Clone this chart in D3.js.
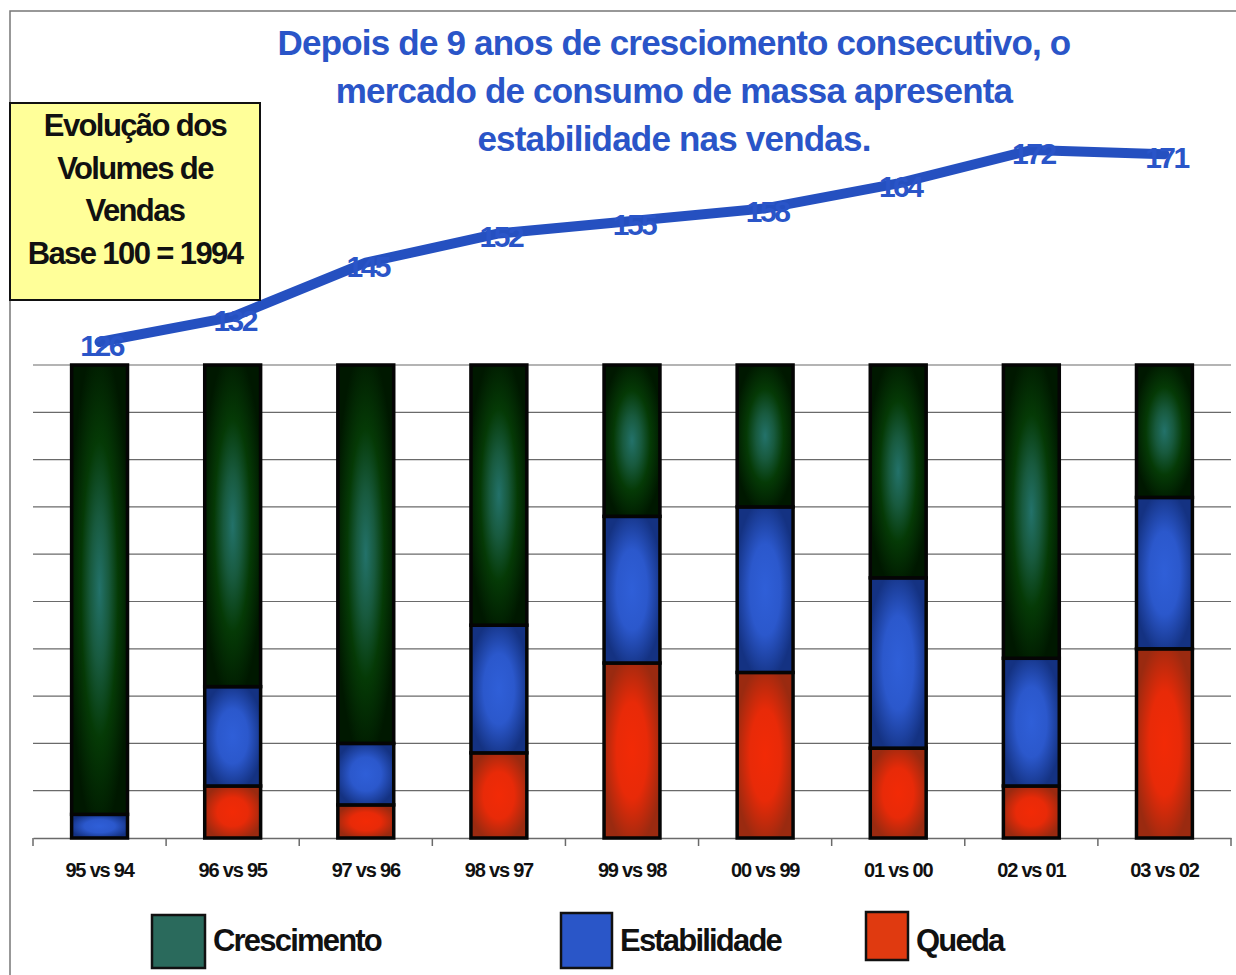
<!DOCTYPE html>
<html>
<head>
<meta charset="utf-8">
<script src="https://cdn.jsdelivr.net/npm/d3@7"></script>
<style>
body{margin:0;background:#fff;}
svg text{font-family:"Liberation Sans",Arial,sans-serif;}
</style>
</head>
<body>
<div class="visHolder"></div>
<script>
// categorias e valores
const periodos=["95 vs 94","96 vs 95","97 vs 96","98 vs 97","99 vs 98","00 vs 99","01 vs 00","02 vs 01","03 vs 02"];
const queda=[0,11,7,18,37,35,19,11,40];
const estabilidade=[5,21,13,27,31,35,36,27,32];
const crescimento=[95,68,80,55,32,30,45,62,28];
const volume=[126,132,145,152,155,158,164,172,171];
const yTicks=[0,10,20,30,40,50,60,70,80,90,100];

const W=1236,H=975;
const plot={left:33,right:1231,top:365,bottom:838};

const svg=d3.select(".visHolder").append("svg")
.attr("width",W).attr("height",H);

// moldura
svg.append("path")
.attr("d","M10,975 V11 H1236")
.attr("fill","none").attr("stroke","#777").attr("stroke-width",1.5);

const series=[
  {key:"queda",name:"Queda",stops:[[0,"#f22a06"],[0.5,"#e82a08"],[1,"#9a2a10"]]},
  {key:"estab",name:"Estabilidade",stops:[[0,"#2f5fd8"],[0.5,"#2b58cc"],[1,"#143282"]]},
  {key:"cresc",name:"Crescimento",stops:[[0,"#23726a"],[0.3,"#185a3e"],[0.6,"#053a06"],[1,"#001800"]]}
];

const defs=svg.append("defs");
series.forEach(s=>{
  const g=defs.append("radialGradient").attr("id","g-"+s.key)
  .attr("cx","50%").attr("cy","50%").attr("r","55%");
  s.stops.forEach(st=>g.append("stop").attr("offset",st[0]).attr("stop-color",st[1]));
});

const x=d3.scaleBand().domain(periodos).range([plot.left,plot.right]).paddingInner(0.58).paddingOuter(0.29);
const xAxisScale=d3.scaleBand().domain(periodos).range([plot.left,plot.right]);
const y=d3.scaleLinear().domain([0,100]).range([plot.bottom,plot.top]);

// grade
svg.append("g").selectAll("line")
.data(yTicks.slice(1))
.enter().append("line")
.attr("x1",plot.left).attr("x2",plot.right)
.attr("y1",d=>y(d)).attr("y2",d=>y(d))
.attr("stroke","#6a6a6a").attr("stroke-width",1.2);

// eixo x
const xAxis=d3.axisBottom(xAxisScale).tickSize(0).tickPadding(25);
const gx=svg.append("g").attr("transform","translate(0,"+plot.bottom+")").call(xAxis);
gx.select(".domain").attr("stroke","#6a6a6a").attr("stroke-width",1.5);
gx.selectAll("text")
.attr("font-family","'Liberation Sans',Arial")
.attr("font-size",20).attr("font-weight","bold")
.attr("letter-spacing",-1.2).attr("fill","#111");
gx.selectAll(".sep")
.data(periodos.concat(["fim"]))
.enter().append("line")
.attr("x1",(d,i)=>plot.left+i*xAxisScale.step())
.attr("x2",(d,i)=>plot.left+i*xAxisScale.step())
.attr("y1",0).attr("y2",8)
.attr("stroke","#6a6a6a").attr("stroke-width",1.5);

// barras empilhadas
const rows=periodos.map((p,i)=>({p:p,queda:queda[i],estab:estabilidade[i],cresc:crescimento[i]}));
const stack=d3.stack().keys(["queda","estab","cresc"]);
const layers=stack(rows);

svg.append("g").selectAll("g")
.data(layers)
.enter().append("g")
.attr("fill",(d,i)=>"url(#g-"+series[i].key+")")
.selectAll("rect")
.data(d=>d.filter(v=>v[1]-v[0]>0))
.enter().append("rect")
.attr("x",d=>x(d.data.p))
.attr("width",x.bandwidth())
.attr("y",d=>y(d[1]))
.attr("height",d=>y(d[0])-y(d[1]))
.attr("stroke","#050505").attr("stroke-width",3.5);

// linha de volume
const yv=d3.scaleLinear().domain([126,172]).range([342,150]);
const cx=d=>xAxisScale(d)+xAxisScale.bandwidth()/2;
const line=d3.line().x((d,i)=>cx(periodos[i])).y(d=>yv(d));
svg.append("path")
.datum(volume)
.attr("d",line)
.attr("fill","none").attr("stroke","#2550c0").attr("stroke-width",10)
.attr("stroke-linecap","round").attr("stroke-linejoin","round");

svg.append("g").selectAll("text")
.data(volume)
.enter().append("text")
.attr("x",(d,i)=>cx(periodos[i])+2)
.attr("y",d=>yv(d)+14)
.attr("text-anchor","middle")
.attr("font-size",30).attr("font-weight","bold").attr("letter-spacing",-2.5)
.attr("fill","#2a55c8")
.text(d=>d);

// título
const titulo=["Depois de 9 anos de cresciomento consecutivo, o","mercado de consumo de massa apresenta","estabilidade nas vendas."];
svg.append("g").selectAll("text")
.data(titulo)
.enter().append("text")
.attr("x",674).attr("y",(d,i)=>55+i*48)
.attr("text-anchor","middle")
.attr("font-size",35).attr("font-weight","bold").attr("letter-spacing",-0.8)
.attr("fill","#2a55c8")
.text(d=>d);

// caixa amarela
svg.append("rect")
.attr("x",10).attr("y",103).attr("width",250).attr("height",197)
.attr("fill","#ffff99").attr("stroke","#111").attr("stroke-width",2);
const caixa=["Evolução dos","Volumes de","Vendas","Base 100 = 1994"];
svg.append("g").selectAll("text")
.data(caixa)
.enter().append("text")
.attr("x",135).attr("y",(d,i)=>136+i*42.5)
.attr("text-anchor","middle")
.attr("font-size",31).attr("font-weight","bold").attr("letter-spacing",-1.6)
.attr("fill","#111")
.text(d=>d);

// legenda
const legenda=[
  {name:"Crescimento",x:152,y:915,w:53,h:53,fill:"#2a6a5c"},
  {name:"Estabilidade",x:561,y:913,w:51,h:55,fill:"#2a56c8"},
  {name:"Queda",x:866,y:912,w:42,h:48,fill:"#e03a10"}
];
const lg=svg.append("g").selectAll("g").data(legenda).enter().append("g");
lg.append("rect")
.attr("x",d=>d.x).attr("y",d=>d.y).attr("width",d=>d.w).attr("height",d=>d.h)
.attr("fill",d=>d.fill).attr("stroke","#111").attr("stroke-width",2.5);
lg.append("text")
.attr("x",d=>d.x+d.w+8).attr("y",951)
.attr("font-size",31).attr("font-weight","bold").attr("letter-spacing",-1.8)
.attr("fill","#111")
.text(d=>d.name);
</script>
</body>
</html>
